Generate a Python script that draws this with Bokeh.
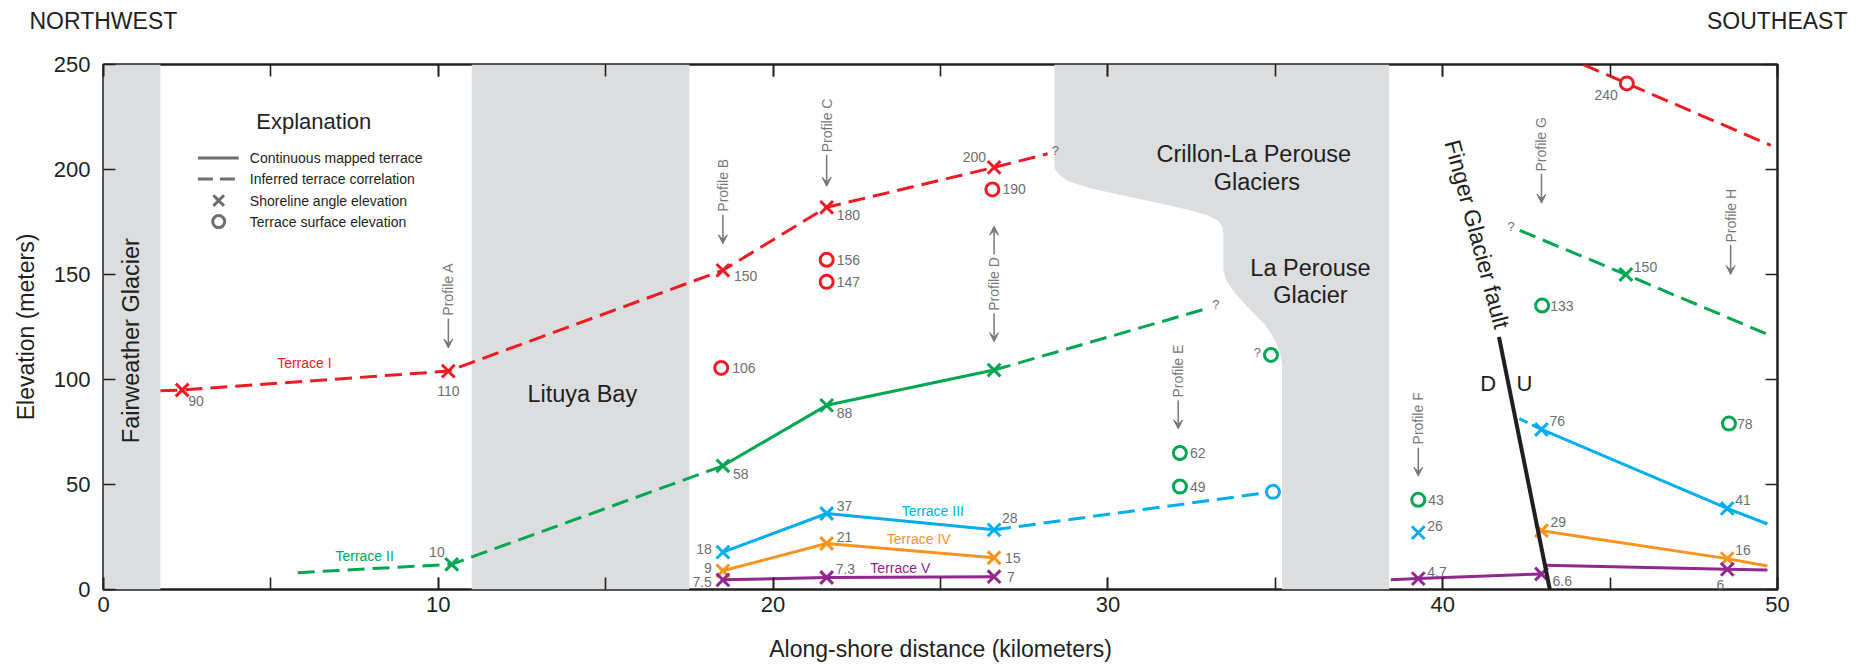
import math
from bokeh.plotting import figure
from bokeh.layouts import column
from bokeh.models import (Range1d, LinearAxis, SingleIntervalTicker,
                          Arrow, VeeHead, ColumnDataSource)
from bokeh.core.properties import value
from bokeh.embed import file_html
from bokeh.resources import INLINE

# ---------------- data (km along shore, elevation m) ----------------
# Terrace I (red)
t1_x = [2.35, 10.3, 18.5, 21.6, 26.6]
t1_y = [95, 104, 152, 182, 201]
t1_labels = ["90", "110", "150", "180", "200"]
t1_line_x = [1.7, 2.35, 10.3, 18.5, 21.6, 26.6, 28.2]
t1_line_y = [94.6, 95, 104, 152, 182, 201, 207.5]
t1_se_x = [44.2, 45.5, 49.8]
t1_se_y = [250, 241, 211.5]
t1_circ_x = [18.45, 21.6, 21.6, 26.55, 45.5]
t1_circ_y = [105.5, 157, 146.5, 190.5, 241]
t1_circ_labels = ["106", "156", "147", "190", "240"]

# Terrace II (green)
t2_x = [10.4, 18.5, 21.6, 26.6, 45.47]
t2_y = [12, 58.9, 87.7, 104.5, 150]
t2_labels = ["10", "58", "88", "", "150"]
t2_dash1_x = [5.8, 10.4, 18.5]
t2_dash1_y = [8, 12, 58.9]
t2_solid_x = [18.5, 21.6, 26.6]
t2_solid_y = [58.9, 87.7, 104.5]
t2_dash2_x = [26.6, 33.0]
t2_dash2_y = [104.5, 134]
t2_se_x = [42.3, 45.47, 49.7]
t2_se_y = [171, 150, 121.5]
t2_circ_x = [32.15, 32.15, 34.87, 39.27, 42.97, 48.55]
t2_circ_y = [65, 49, 111.7, 42.7, 135.2, 79]
t2_circ_labels = ["62", "49", "", "43", "133", "78"]

# Terrace III (blue)
t3_x = [18.5, 21.6, 26.6, 39.27, 42.95, 48.5]
t3_y = [17.8, 36.2, 28.4, 27.1, 76.2, 38.6]
t3_labels = ["18", "37", "28", "26", "76", "41"]
t3_solid_x = [18.5, 21.6, 26.6]
t3_solid_y = [17.8, 36.2, 28.4]
t3_dash_x = [26.6, 34.93]
t3_dash_y = [28.4, 46.5]
t3_circ_x = [34.93]
t3_circ_y = [46.5]
t3_se_dash_x = [42.29, 42.95]
t3_se_dash_y = [81.4, 76.2]
t3_se_x = [42.95, 48.5, 49.7]
t3_se_y = [76.2, 38.6, 31.2]

# Terrace IV (orange)
t4_x = [18.5, 21.6, 26.6, 42.95, 48.5]
t4_y = [8.9, 21.9, 15.1, 28.0, 14.7]
t4_labels = ["9", "21", "15", "29", "16"]
t4_nw_x = [18.5, 21.6, 26.6]
t4_nw_y = [8.9, 21.9, 15.1]
t4_se_x = [42.95, 48.5, 49.7]
t4_se_y = [28.0, 14.7, 11.2]

# Terrace V (purple)
t5_x = [18.5, 21.6, 26.6, 39.27, 42.95, 48.5]
t5_y = [4.6, 5.7, 6.1, 5.2, 7.4, 9.6]
t5_labels = ["7.5", "7.3", "7", "4.7", "6.6", "6"]
t5_nw_x = [18.5, 21.6, 26.6]
t5_nw_y = [4.6, 5.7, 6.1]
t5_mid_x = [38.45, 39.27, 42.95]
t5_mid_y = [4.6, 5.2, 7.4]
t5_se_x = [43.05, 48.5, 49.7]
t5_se_y = [11.6, 9.6, 9.3]

# Finger Glacier fault trace
fault_x = [41.68, 43.2]
fault_y = [120.3, 0]

# Profiles
prof_names = ["A", "B", "C", "D", "E", "F", "G", "H"]
prof_x = [10.3, 18.5, 21.6, 26.6, 32.1, 39.27, 42.95, 48.6]
prof_text_y = [143, 192.5, 221, 145.5, 104, 81.5, 212, 178]
prof_tip_y = [115, 164.6, 192, 118, 76.5, 54, 184, 150]
profD_up_tip = 173

# Shaded glacier / bay areas
band_left = [0, 11.0]
band_right = [1.7, 17.5]
cr_x = [28.4, 28.4, 28.55, 28.8, 29.5, 30.5, 31.5, 32.5, 33.0, 33.3, 33.42, 33.45,
        33.45, 33.55, 33.8, 34.2, 34.7, 35.0, 35.15, 35.2, 35.2, 38.4, 38.4]
cr_y = [250, 200.5, 197.5, 194.5, 191.0, 187.5, 184.0, 180.5, 178.0, 175.5, 172.5, 169,
        152, 147, 141, 134, 126, 118.5, 112, 107, 0, 0, 250]

# ---------------- style ----------------
FONT = "Liberation Sans"
RED, GREEN, BLUE = "#ed1c24", "#00a651", "#00aeef"
ORANGE, PURPLE = "#f7941d", "#92278f"
GREY, BAND, BLACK = "#6d6e71", "#dcdddf", "#231f20"
LW = 3
DASH = "17 8"
W = 1872
TOP_H = 44
MAIN_H = 667 - TOP_H

# ---- top strip with the compass directions ----
top = figure(width=W, height=TOP_H, x_range=Range1d(0, W), y_range=Range1d(0, TOP_H),
             output_backend="svg", toolbar_location=None, min_border=0,
             x_axis_location=None, y_axis_location=None)
top.grid.visible = False
top.outline_line_color = None
top.text(x=[29], y=[TOP_H - 20], text=["NORTHWEST"], text_align="left", text_baseline="middle",
         text_font=value(FONT), text_font_size="23px", text_color=BLACK)
top.text(x=[1847], y=[TOP_H - 20], text=["SOUTHEAST"], text_align="right", text_baseline="middle",
         text_font=value(FONT), text_font_size="23px", text_color=BLACK)

# ---- main chart ----
p = figure(width=W, height=MAIN_H, x_range=Range1d(0, 50), y_range=Range1d(0, 250),
           output_backend="svg", toolbar_location=None,
           min_border_left=103, min_border_right=95, min_border_top=20, min_border_bottom=78,
           x_axis_label="Along-shore distance (kilometers)", y_axis_label="Elevation (meters)")
p.grid.visible = False
p.outline_line_color = BLACK
p.outline_line_width = 2.5
p.background_fill_color = "white"
p.border_fill_color = "white"

for fig in (top, p):
    if "frame_align" in fig.properties():
        fig.frame_align = False

PX_X = 50 / 1674.0
PX_Y = 250 / 525.0


def style_axis(ax, labels=True, vals=()):
    ax.axis_line_color = None
    ax.major_tick_in = 12
    ax.major_tick_out = 0
    ax.minor_tick_in = 12
    ax.minor_tick_out = 0
    ax.major_tick_line_color = BLACK
    ax.minor_tick_line_color = BLACK
    ax.major_tick_line_width = 1.6
    ax.minor_tick_line_width = 1.6
    ax.major_label_text_font = FONT
    ax.major_label_text_font_size = "22px"
    ax.major_label_text_color = BLACK
    ax.axis_label_text_font = FONT
    ax.axis_label_text_font_size = "23px"
    ax.axis_label_text_font_style = "normal"
    ax.axis_label_text_color = BLACK
    if not labels:
        ax.major_label_overrides = {v: "" for v in vals}


p.xaxis.ticker = SingleIntervalTicker(interval=10, num_minor_ticks=2)
p.yaxis.ticker = SingleIntervalTicker(interval=50, num_minor_ticks=0)
style_axis(p.xaxis[0])
style_axis(p.yaxis[0])
p.xaxis.major_label_standoff = 7
p.xaxis.axis_label_standoff = 21
p.yaxis.major_label_standoff = 13
p.yaxis.axis_label_standoff = 12

top_ax = LinearAxis(ticker=SingleIntervalTicker(interval=10, num_minor_ticks=2))
style_axis(top_ax, False, [0, 10, 20, 30, 40, 50])
p.add_layout(top_ax, "above")
right_ax = LinearAxis(ticker=SingleIntervalTicker(interval=50, num_minor_ticks=0))
style_axis(right_ax, False, [0, 50, 100, 150, 200, 250])
p.add_layout(right_ax, "right")

# shaded areas
p.quad(left=band_left, right=band_right, bottom=0, top=250, fill_color=BAND, line_color=None)
p.patch(cr_x, cr_y, fill_color=BAND, line_color=None)


def txt(x, y, t, color=BLACK, size="14px", align="left", angle=0.0, baseline="middle"):
    p.text(x=x, y=y, text=t, text_align=align, text_baseline=baseline, angle=angle,
           text_font=value(FONT), text_font_size=size, text_color=color)


def labels(xs, ys, texts, offs, color=GREY, size="14px"):
    for align in ("left", "right", "center"):
        sel = [i for i, o in enumerate(offs) if o[2] == align and texts[i]]
        if not sel:
            continue
        txt([xs[i] + offs[i][0] * PX_X for i in sel],
            [ys[i] - offs[i][1] * PX_Y for i in sel],
            [texts[i] for i in sel], color, size, align)


def xs_(x, y, c):
    p.scatter(x, y, marker="x", size=18, line_width=LW, line_color=c)


def os_(x, y, c):
    p.scatter(x, y, marker="circle", size=13, line_width=LW, line_color=c, fill_color="white")


# Terrace I
p.line(t1_line_x, t1_line_y, line_color=RED, line_width=LW, line_dash=DASH)
p.line(t1_se_x, t1_se_y, line_color=RED, line_width=LW, line_dash=DASH)
xs_(t1_x, t1_y, RED)
os_(t1_circ_x, t1_circ_y, RED)
labels(t1_x, t1_y, t1_labels, [(6, 11, "left"), (0, 20, "center"), (11, 6, "left"),
                                 (10, 8, "left"), (-8, -10, "right")])
labels(t1_circ_x, t1_circ_y, t1_circ_labels, [(11, 0, "left"), (10, 0, "left"), (10, 0, "left"),
                                               (10, 0, "left"), (-9, 12, "right")])

# Terrace II
p.line(t2_dash1_x, t2_dash1_y, line_color=GREEN, line_width=LW, line_dash=DASH)
p.line(t2_solid_x, t2_solid_y, line_color=GREEN, line_width=LW)
p.line(t2_dash2_x, t2_dash2_y, line_color=GREEN, line_width=LW, line_dash=DASH)
p.line(t2_se_x, t2_se_y, line_color=GREEN, line_width=LW, line_dash=DASH)
xs_(t2_x, t2_y, GREEN)
os_(t2_circ_x, t2_circ_y, GREEN)
labels(t2_x, t2_y, t2_labels, [(-7, -12, "right"), (10, 8, "left"), (10, 8, "left"),
                                 (0, 0, "left"), (8, -8, "left")])
labels(t2_circ_x, t2_circ_y, t2_circ_labels, [(10, 0, "left"), (10, 0, "left"), (0, 0, "left"),
                                               (10, 0, "left"), (8, 0, "left"), (8, 0, "left")])

# Terrace III
p.line(t3_solid_x, t3_solid_y, line_color=BLUE, line_width=LW)
p.line(t3_dash_x, t3_dash_y, line_color=BLUE, line_width=LW, line_dash=DASH)
p.line(t3_se_dash_x, t3_se_dash_y, line_color=BLUE, line_width=LW, line_dash="9 5")
p.line(t3_se_x, t3_se_y, line_color=BLUE, line_width=LW)
xs_(t3_x, t3_y, BLUE)
os_(t3_circ_x, t3_circ_y, BLUE)
labels(t3_x, t3_y, t3_labels, [(-11, -3, "right"), (10, -7, "left"), (8, -12, "left"),
                                 (9, -7, "left"), (8, -8, "left"), (8, -8, "left")])

# Terrace IV
p.line(t4_nw_x, t4_nw_y, line_color=ORANGE, line_width=LW)
p.line(t4_se_x, t4_se_y, line_color=ORANGE, line_width=LW)
xs_(t4_x, t4_y, ORANGE)
labels(t4_x, t4_y, t4_labels, [(-11, -3, "right"), (10, -7, "left"), (11, 0, "left"),
                                 (9, -9, "left"), (8, -9, "left")])

# Terrace V
p.line(t5_nw_x, t5_nw_y, line_color=PURPLE, line_width=LW)
p.line(t5_mid_x, t5_mid_y, line_color=PURPLE, line_width=LW)
p.line(t5_se_x, t5_se_y, line_color=PURPLE, line_width=LW)
xs_(t5_x, t5_y, PURPLE)
labels(t5_x, t5_y, t5_labels, [(-11, 2, "right"), (9, -9, "left"), (13, 0, "left"),
                                 (9, -7, "left"), (11, 7, "left"), (-3, 16, "right")])

# question marks
q_x = [t1_line_x[-1], t2_dash2_x[-1], t2_circ_x[2], t2_se_x[0]]
q_y = [t1_line_y[-1], t2_dash2_y[-1], t2_circ_y[2], t2_se_y[0]]
labels(q_x, q_y, ["?"] * 4, [(4, -3, "left"), (4, -4, "left"), (-10, -2, "right"), (-5, -4, "right")],
       size="13px")

# terrace names
txt([6.0], [107.8], ["Terrace I"], RED, align="center")
txt([7.8], [16], ["Terrace II"], GREEN, align="center")
txt([24.77], [37.3], ["Terrace III"], BLUE, align="center")
txt([24.35], [24], ["Terrace IV"], ORANGE, align="center")
txt([23.8], [10.1], ["Terrace V"], PURPLE, align="center")

# fault
p.line(fault_x, fault_y, line_color=BLACK, line_width=4)
txt([41.03], [169.2], ["Finger Glacier fault"], BLACK, "23px", "center", angle=math.radians(-75))
txt([41.36, 42.44], [98.2, 98.2], ["D", "U"], BLACK, "22px", "center")

# place names
txt([0.82], [118.5], ["Fairweather Glacier"], BLACK, "23.5px", "center", angle=math.pi / 2)
txt([14.3], [93.3], ["Lituya Bay"], BLACK, "23.5px", "center")
txt([34.36, 34.45], [207.2, 194.1], ["Crillon-La Perouse", "Glaciers"], BLACK, "23.5px", "center")
txt([36.05, 36.05], [153.3, 140.2], ["La Perouse", "Glacier"], BLACK, "23.5px", "center")

# profiles
PROF_GREY = "#77787b"
txt(prof_x, prof_text_y, ["Profile " + n for n in prof_names], PROF_GREY, "14px", "center",
    angle=math.pi / 2)
ar_xs = list(prof_x) + [prof_x[3]]
ar_ys = [ty - 14 for ty in prof_text_y] + [prof_text_y[3] + 14]
ar_ye = list(prof_tip_y) + [profD_up_tip]
arr_src = ColumnDataSource(dict(xs=ar_xs, ys=ar_ys, xe=ar_xs, ye=ar_ye))
p.add_layout(Arrow(x_start="xs", y_start="ys", x_end="xe", y_end="ye", source=arr_src,
                   line_color=PROF_GREY, line_width=1.5,
                   end=VeeHead(size=9, fill_color=PROF_GREY, line_color=PROF_GREY, line_width=1)))

# explanation
txt([6.28], [223], ["Explanation"], BLACK, "22px", "center")
p.line([2.82, 4.04], [205.5, 205.5], line_color=GREY, line_width=LW)
p.line([2.82, 4.04], [195.5, 195.5], line_color=GREY, line_width=LW, line_dash="15 7")
p.scatter([3.44], [185.2], marker="x", size=15, line_width=LW, line_color=GREY)
p.scatter([3.44], [175.2], marker="circle", size=12, line_width=LW, line_color=GREY, fill_color="white")
txt([4.37] * 4, [205.5, 195.5, 185.2, 175.2],
    ["Continuous mapped terrace", "Inferred terrace correlation",
     "Shoreline angle elevation", "Terrace surface elevation"], BLACK, "14px")

layout = column(top, p, spacing=0)
open("out.html", "w").write(file_html(layout, INLINE))
